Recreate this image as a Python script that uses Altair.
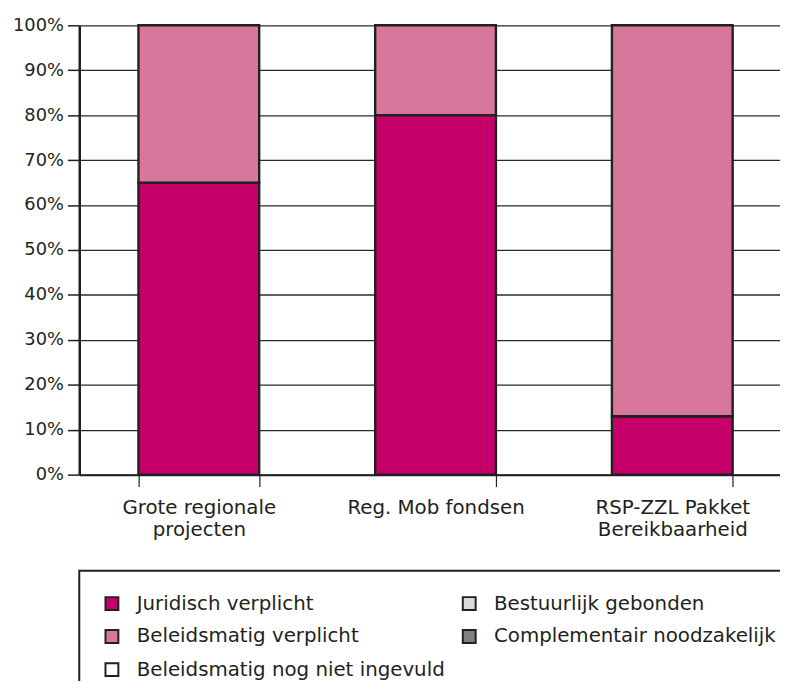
import altair as alt
import pandas as pd

categories = ["Grote regionale projecten", "Reg. Mob fondsen", "RSP-ZZL Pakket Bereikbaarheid"]
juridisch = [65, 80, 13]
beleid_verplicht = [35, 20, 87]
beleid_niet_ingevuld = [0, 0, 0]
bestuurlijk = [0, 0, 0]
complementair = [0, 0, 0]

series_names = ["Juridisch verplicht", "Beleidsmatig verplicht", "Beleidsmatig nog niet ingevuld",
                "Bestuurlijk gebonden", "Complementair noodzakelijk"]
series_values = [juridisch, beleid_verplicht, beleid_niet_ingevuld, bestuurlijk, complementair]
series_colors = ["#C5006B", "#D7779C", "#FFFFFF", "#D9D9D9", "#7F7F7F"]

rows = []
for rank, (name, vals) in enumerate(zip(series_names, series_values)):
    for cat, v in zip(categories, vals):
        if v > 0:
            rows.append({"cat": cat, "serie": name, "value": v, "rank": rank})
df = pd.DataFrame(rows)

dark = "#231F20"
FONT = "DejaVu Sans"

label_expr = ("datum.label == 'Grote regionale projecten' ? ['Grote regionale', 'projecten'] : "
              "datum.label == 'RSP-ZZL Pakket Bereikbaarheid' ? ['RSP-ZZL Pakket', 'Bereikbaarheid'] : datum.label")

chart = alt.Chart(df).mark_bar(stroke=dark, strokeWidth=2.4).encode(
    x=alt.X("cat:N", sort=categories, title=None,
            scale=alt.Scale(paddingInner=0.49, paddingOuter=0.225, align=0.5556),
            axis=alt.Axis(labelAngle=0, labelExpr=label_expr, labelFontSize=20, labelLineHeight=23,
                          labelColor=dark, labelFont=FONT, tickBand="extent", tickSize=12,
                          tickColor=dark, tickWidth=1.2, labelPadding=11, domainColor=dark,
                          domainWidth=2, grid=False)),
    y=alt.Y("value:Q", stack="zero", title=None,
            scale=alt.Scale(domain=[0, 100], nice=False),
            axis=alt.Axis(values=list(range(0, 101, 10)), labelExpr="datum.value + '%'",
                          labelFontSize=18, labelColor=dark, labelFont=FONT, tickSize=12,
                          tickColor=dark, tickWidth=1.5, labelPadding=4, domainColor=dark,
                          domainWidth=2.5, grid=True, gridColor="#2a2a2a", gridWidth=1.3)),
    color=alt.Color("serie:N",
                    scale=alt.Scale(domain=series_names, range=series_colors),
                    legend=alt.Legend(title=None, orient="none", legendX=0, legendY=551,
                                      columns=2, columnPadding=13, rowPadding=11.5,
                                      padding=23, strokeColor=dark, gridAlign="all",
                                      symbolType="square", symbolSize=169,
                                      symbolStrokeColor=dark, symbolStrokeWidth=2,
                                      symbolOpacity=1, labelFontSize=20, labelFont=FONT,
                                      labelColor=dark, labelOffset=15, labelLimit=400)),
    order=alt.Order("rank:Q"),
).properties(
    width=708, height=454,
    autosize=alt.AutoSizeParams(type="none"),
    padding={"left": 72, "top": 14, "right": 0, "bottom": 205},
).configure_view(stroke=None).configure_legend(strokeWidth=2)

chart.save("out.html", embed_options={"renderer": "svg", "actions": False})
